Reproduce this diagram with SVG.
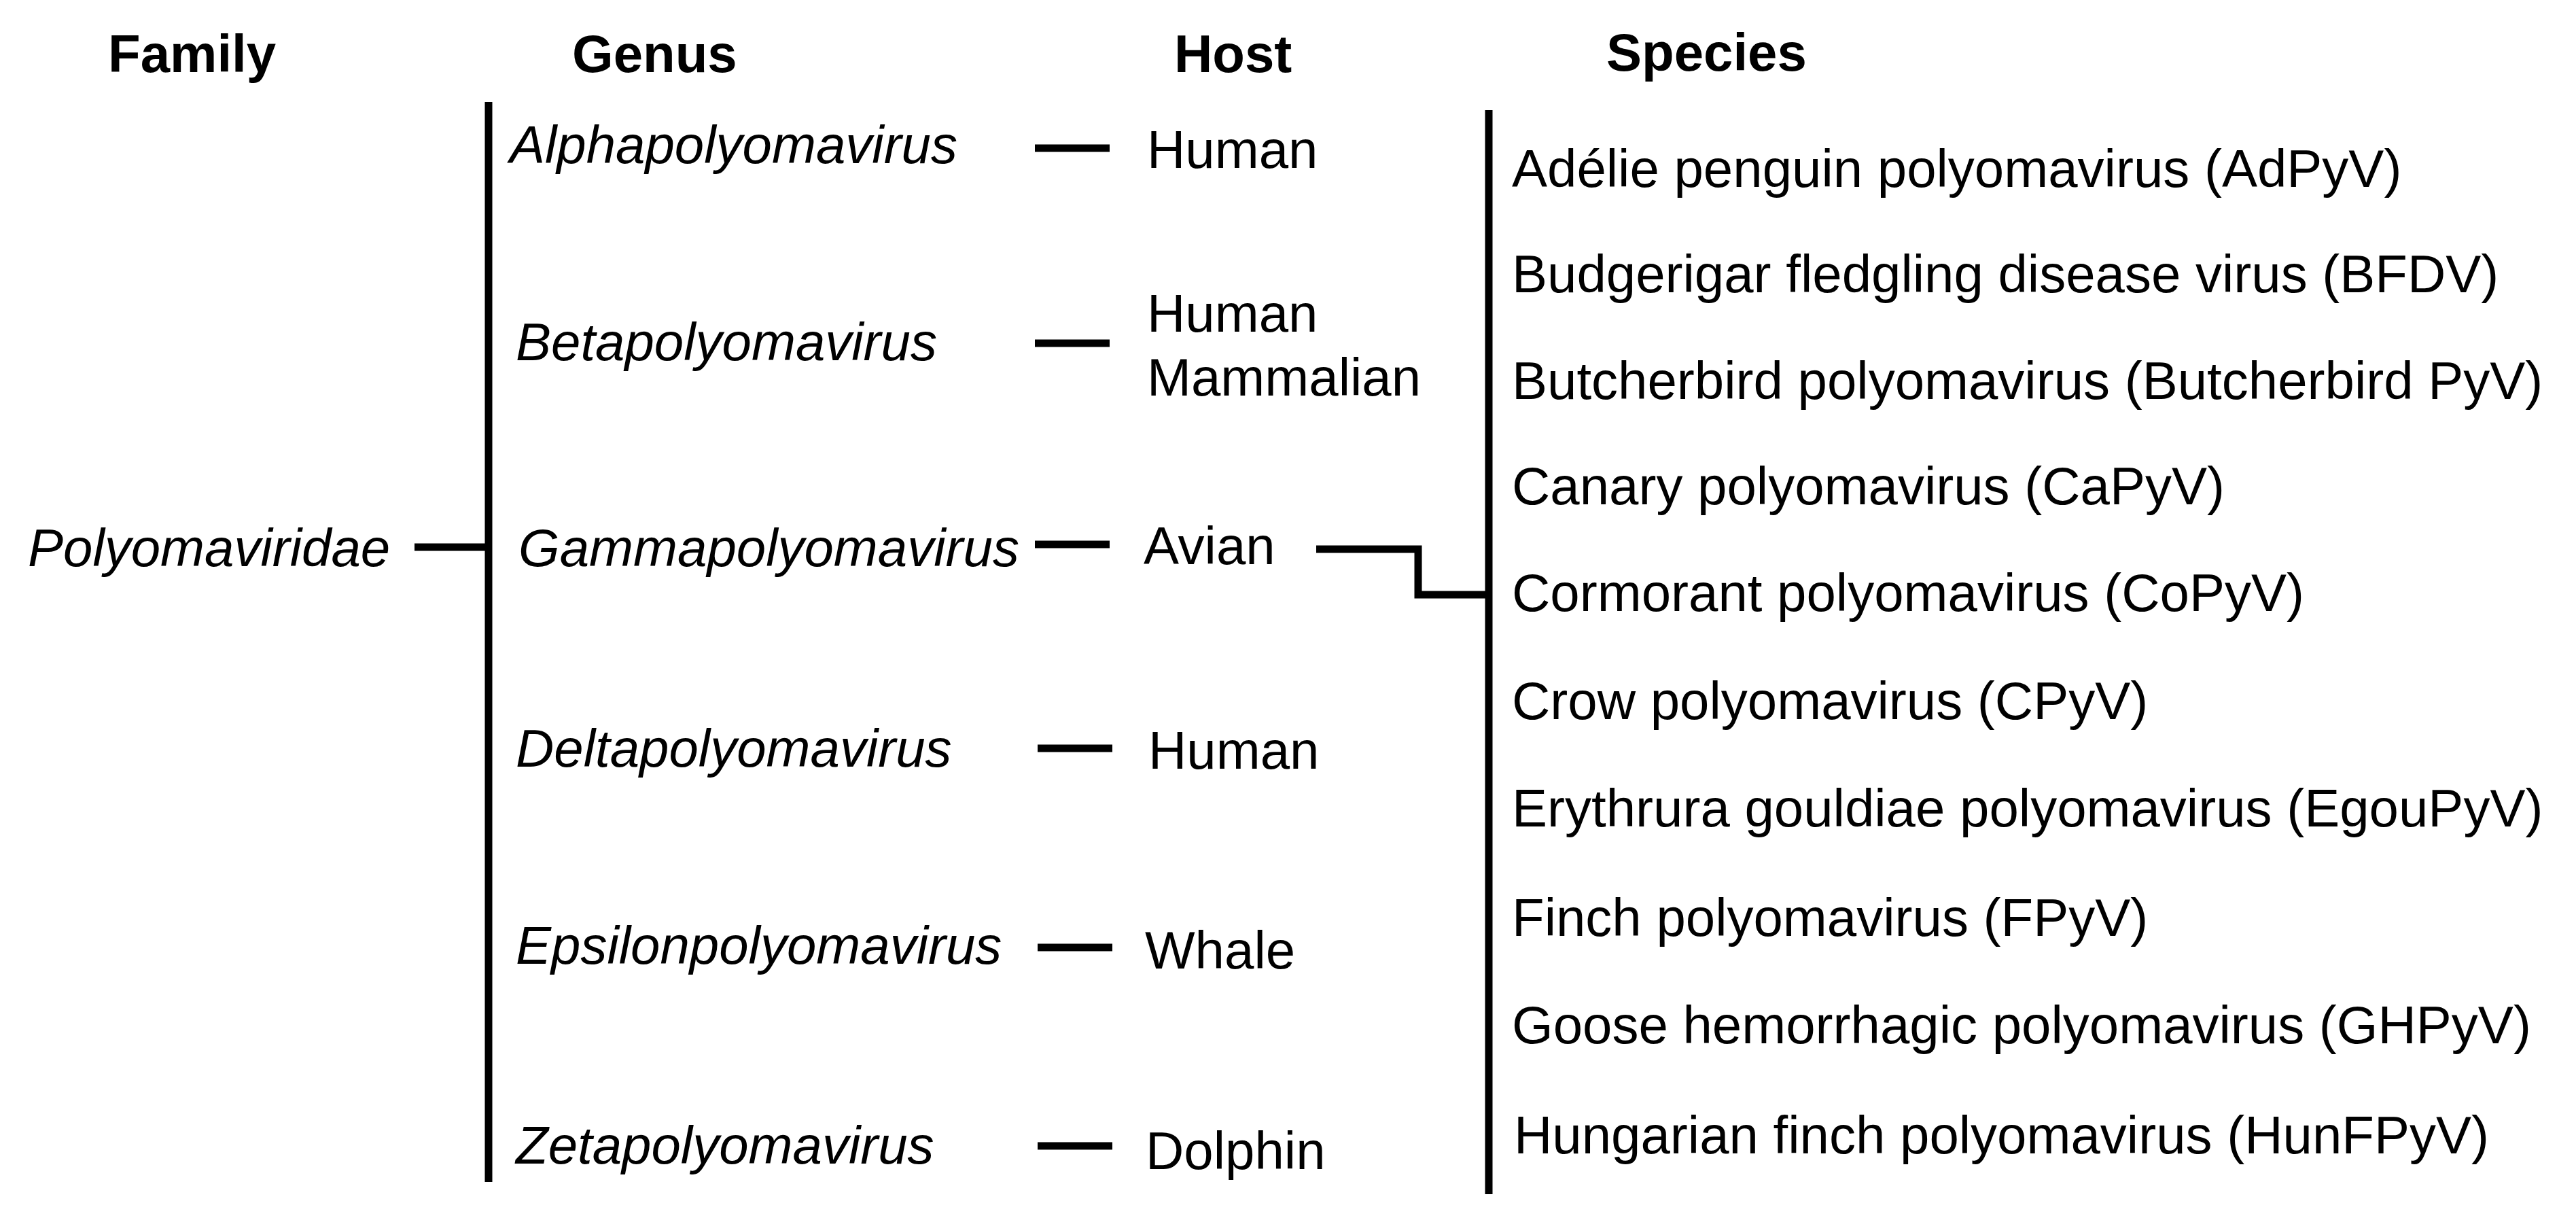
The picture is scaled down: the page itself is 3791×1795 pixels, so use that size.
<svg xmlns="http://www.w3.org/2000/svg" width="3791" height="1795" viewBox="0 0 3791 1795">
<style>
text { font-family: "Liberation Sans", Arial, Helvetica, sans-serif; font-size: 78px; fill: #000; }
.hdr { font-weight: bold; }
.gen { font-style: italic; }
.ln { stroke: #000; stroke-width: 11; fill: none; stroke-linecap: butt; stroke-linejoin: miter; }
</style>
<rect width="3791" height="1795" fill="#fff"/>
<g id="headers">
  <text class="hdr" x="159" y="106">Family</text>
  <text class="hdr" x="842" y="106">Genus</text>
  <text class="hdr" x="1728" y="106">Host</text>
  <text class="hdr" x="2364" y="104">Species</text>
</g>
<g id="connectors">
  <line class="ln" x1="610" y1="805" x2="719" y2="805"/>
  <line class="ln" x1="719" y1="150" x2="719" y2="1739"/>
  <line class="ln" x1="1523" y1="218" x2="1633" y2="218"/>
  <line class="ln" x1="1523" y1="505" x2="1633" y2="505"/>
  <line class="ln" x1="1523" y1="801" x2="1633" y2="801"/>
  <line class="ln" x1="1527" y1="1101" x2="1637" y2="1101"/>
  <line class="ln" x1="1527" y1="1394" x2="1637" y2="1394"/>
  <line class="ln" x1="1527" y1="1686" x2="1637" y2="1686"/>
  <path class="ln" d="M1937 808 H2087 V875 H2191"/>
  <line class="ln" x1="2191" y1="162" x2="2191" y2="1757"/>
</g>
<g id="family">
  <text class="gen" x="41" y="833">Polyomaviridae</text>
</g>
<g id="genus-alpha"><text class="gen" x="750" y="240">Alphapolyomavirus</text></g>
<g id="genus-beta"><text class="gen" x="759" y="530">Betapolyomavirus</text></g>
<g id="genus-gamma"><text class="gen" x="763" y="833">Gammapolyomavirus</text></g>
<g id="genus-delta"><text class="gen" x="759" y="1128">Deltapolyomavirus</text></g>
<g id="genus-epsilon"><text class="gen" x="759" y="1418">Epsilonpolyomavirus</text></g>
<g id="genus-zeta"><text class="gen" x="759" y="1712">Zetapolyomavirus</text></g>
<g id="host-alpha"><text x="1688" y="247">Human</text></g>
<g id="host-beta"><text x="1688" y="488">Human</text><text x="1688" y="582">Mammalian</text></g>
<g id="host-gamma"><text x="1683" y="830">Avian</text></g>
<g id="host-delta"><text x="1690" y="1131">Human</text></g>
<g id="host-epsilon"><text x="1685" y="1425">Whale</text></g>
<g id="host-zeta"><text x="1686" y="1720">Dolphin</text></g>
<g id="species">
  <text x="2225" y="275">Adélie penguin polyomavirus (AdPyV)</text>
  <text x="2225" y="430">Budgerigar fledgling disease virus (BFDV)</text>
  <text x="2225" y="587">Butcherbird polyomavirus (Butcherbird PyV)</text>
  <text x="2225" y="742">Canary polyomavirus (CaPyV)</text>
  <text x="2225" y="899">Cormorant polyomavirus (CoPyV)</text>
  <text x="2225" y="1058">Crow polyomavirus (CPyV)</text>
  <text x="2225" y="1216">Erythrura gouldiae polyomavirus (EgouPyV)</text>
  <text x="2225" y="1377">Finch polyomavirus (FPyV)</text>
  <text x="2225" y="1535">Goose hemorrhagic polyomavirus (GHPyV)</text>
  <text x="2228" y="1697">Hungarian finch polyomavirus (HunFPyV)</text>
</g>
</svg>
